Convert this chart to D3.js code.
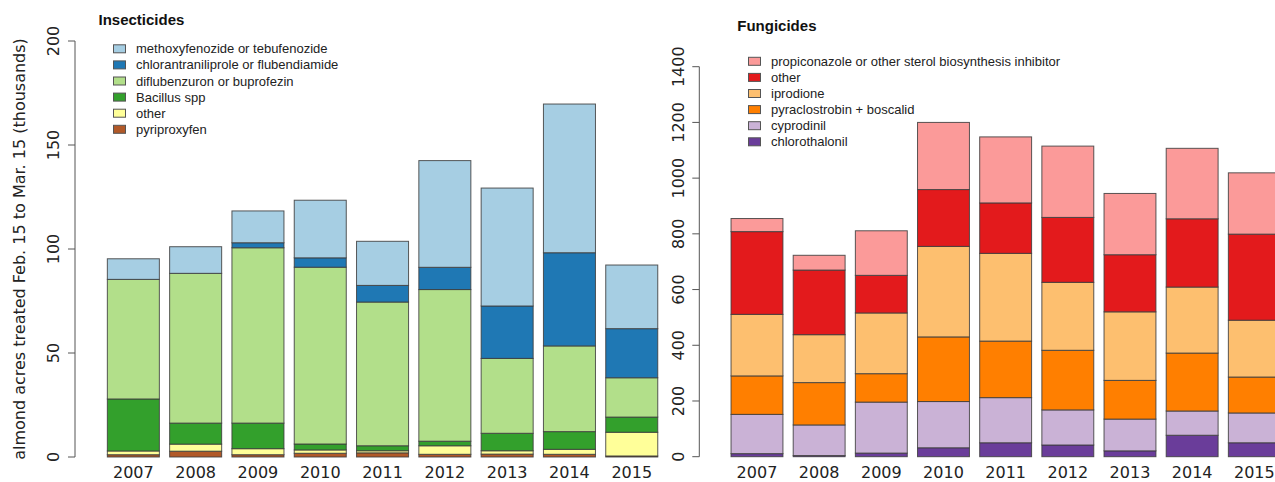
<!DOCTYPE html>
<html>
<head>
<meta charset="utf-8">
<script src="https://d3js.org/d3.v7.min.js"></script>
<style>
body { margin:0; background:#fff; }
</style>
</head>
<body>
<svg id="svg1" width="1275" height="482"></svg>
<script>
var years = ["2007","2008","2009","2010","2011","2012","2013","2014","2015"];

// insecticides, thousands of acres (stacked bottom -> top)
var insect_names = ["pyriproxyfen","other","Bacillus spp","diflubenzuron or buprofezin","chlorantraniliprole or flubendiamide","methoxyfenozide or tebufenozide"];
var pyriproxyfen = [1.1, 2.8, 1.1, 1.8, 2.0, 1.3, 1.4, 1.3, 0.5];
var insect_other = [1.8, 3.4, 2.9, 1.6, 1.0, 4.1, 1.6, 2.4, 11.4];
var bacillus     = [25.0, 10.1, 12.3, 2.85, 2.4, 2.2, 8.4, 8.5, 7.3];
var diflubenzuron = [57.5, 72.0, 84.3, 85.0, 69.1, 72.9, 36.0, 41.2, 18.9];
var chlorantraniliprole = [0, 0, 2.4, 4.5, 8.0, 10.7, 25.2, 44.8, 23.6];
var methoxyfenozide = [9.9, 12.8, 15.3, 27.7, 21.2, 51.3, 56.7, 71.5, 30.6];
var insect_colors = ["#B15928","#FFFF99","#33A02C","#B2DF8A","#1F78B4","#A6CEE3"];
var insect_ticks = [0, 50, 100, 150, 200];

// fungicides (stacked bottom -> top)
var fung_names = ["chlorothalonil","cyprodinil","pyraclostrobin + boscalid","iprodione","other","propiconazole or other sterol biosynthesis inhibitor"];
var chlorothalonil = [11, 4, 13, 32, 50, 42, 21, 77, 50];
var cyprodinil     = [141, 110, 183, 166, 162, 126, 114, 87, 107];
var pyraclostrobin = [138, 152, 102, 232, 203, 214, 139, 208, 129];
var iprodione      = [221, 172, 218, 325, 315, 244, 246, 237, 204];
var fung_other     = [297, 232, 135, 204, 181, 233, 205, 245, 309];
var propiconazole  = [47, 53, 160, 241, 237, 256, 220, 253, 220];
var fung_colors = ["#6A3D9A","#CAB2D6","#FF7F00","#FDBF6F","#E31A1C","#FB9A99"];
var fung_ticks = [0, 200, 400, 600, 800, 1000, 1200, 1400];

var build_rows = function(series)
{
	var rows = [];
	for(var i = 0; i < years.length; i++)
	{
		var r = {year: years[i]};
		for(var k = 0; k < series.length; k++)
		{
			r["s" + k] = series[k][i];
		}
		rows.push(r);
	}
	return rows;
}

var svg = d3.select("#svg1");
svg.append("rect").attr("width",1275).attr("height",482).attr("fill","#fff");

var draw_panel = function(opt)
{
	var g = svg.append("g");
	if(opt.bg)
	{
		g.append("rect")
			.attr("x", opt.bgX).attr("y", 0)
			.attr("width", 1275 - opt.bgX).attr("height", 482)
			.attr("fill", "#fff");
	}

	var x = d3.scaleBand()
		.domain(years)
		.range(opt.xRange)
		.paddingInner(0.165)
		.paddingOuter(0.0825);

	var y = d3.scaleLinear()
		.domain(opt.yDomain)
		.range(opt.yRange);

	var keys = opt.series.map(function(s, i) { return "s" + i; });
	var stack = d3.stack().keys(keys);
	var layers = stack(build_rows(opt.series));

	var clipId = "clip" + opt.id;
	svg.append("clipPath").attr("id", clipId)
		.append("rect")
		.attr("x", opt.clip[0]).attr("y", 0)
		.attr("width", opt.clip[1] - opt.clip[0]).attr("height", 482);

	var bars = g.append("g").attr("clip-path", "url(#" + clipId + ")");
	bars.selectAll("g.layer")
		.data(layers)
		.enter().append("g")
		.attr("class", "layer")
		.attr("fill", function(d, i) { return opt.colors[i]; })
		.selectAll("rect")
		.data(function(d) { return d; })
		.enter().append("rect")
		.attr("x", function(d) { return x(d.data.year); })
		.attr("width", x.bandwidth())
		.attr("y", function(d) { return y(d[1]); })
		.attr("height", function(d) { return y(d[0]) - y(d[1]); })
		.attr("stroke", "#3c3c3c")
		.attr("stroke-opacity", 0.85)
		.attr("stroke-width", 1);

	// x labels
	g.selectAll("text.xl")
		.data(years)
		.enter().append("text")
		.attr("class", "xl")
		.attr("x", function(d) { return x(d) + x.bandwidth() / 2; })
		.attr("y", 478)
		.attr("text-anchor", "middle")
		.style("font-family", "DejaVu Sans")
		.style("font-size", "16px")
		.style("fill", "#222")
		.text(function(d) { return d; });

	// y axis, R style (rotated labels)
	var ax = g.append("g").attr("transform", "translate(" + opt.axisX + ",0)");
	ax.append("line")
		.attr("x1", 0).attr("x2", 0)
		.attr("y1", y(opt.ticks[0])).attr("y2", y(opt.ticks[opt.ticks.length - 1]))
		.attr("stroke", "#555");
	ax.selectAll("line.tk")
		.data(opt.ticks)
		.enter().append("line")
		.attr("class", "tk")
		.attr("x1", -7).attr("x2", 0)
		.attr("y1", function(d) { return y(d); })
		.attr("y2", function(d) { return y(d); })
		.attr("stroke", "#555");
	ax.selectAll("text")
		.data(opt.ticks)
		.enter().append("text")
		.attr("transform", function(d) { return "translate(" + opt.labelDX + "," + y(d) + ") rotate(-90)"; })
		.attr("dy", "0.35em")
		.attr("text-anchor", "middle")
		.style("font-family", "DejaVu Sans")
		.style("font-size", "16px")
		.style("fill", "#222")
		.text(function(d) { return d; });

	// title + legend
	g.append("text")
		.attr("x", opt.titleX).attr("y", opt.titleY)
		.style("font-family", "Liberation Sans")
		.style("font-size", "15px")
		.attr("font-weight", "bold")
		.style("fill", "#111")
		.text(opt.title);

	var legendNames = opt.names.slice().reverse();
	var legendColors = opt.colors.slice().reverse();
	var leg = g.selectAll("g.leg")
		.data(legendNames)
		.enter().append("g")
		.attr("class", "leg")
		.attr("transform", function(d, i) { return "translate(" + opt.legX + "," + (opt.legY + i * 16.1) + ")"; });
	leg.append("rect")
		.attr("x", 0).attr("y", -4)
		.attr("width", 12).attr("height", 8)
		.attr("fill", function(d, i) { return legendColors[i]; })
		.attr("stroke", "#555");
	leg.append("text")
		.attr("x", 22.5)
		.attr("dy", "0.35em")
		.style("font-family", "Liberation Sans")
		.style("font-size", "13px")
		.style("fill", "#222")
		.text(function(d) { return d; });
}

draw_panel({
	id: "ins",
	series: [pyriproxyfen, insect_other, bacillus, diflubenzuron, chlorantraniliprole, methoxyfenozide],
	names: insect_names,
	colors: insect_colors,
	xRange: [102.2, 662.9],
	yDomain: [0, 200],
	yRange: [457, 41],
	ticks: insect_ticks,
	axisX: 75,
	labelDX: -22,
	clip: [0, 662],
	title: "Insecticides",
	titleX: 98.5, titleY: 24.7,
	legX: 113.5, legY: 48.8
});

// y title of the left panel
svg.append("text")
	.attr("transform", "translate(19,249) rotate(-90)")
	.attr("dy", "0.35em")
	.attr("text-anchor", "middle")
	.style("font-family", "DejaVu Sans")
	.style("font-size", "16px")
	.style("fill", "#222")
	.text("almond acres treated Feb. 15 to Mar. 15 (thousands)");

draw_panel({
	id: "fun",
	bg: true, bgX: 662,
	series: [chlorothalonil, cyprodinil, pyraclostrobin, iprodione, fung_other, propiconazole],
	names: fung_names,
	colors: fung_colors,
	xRange: [725.9, 1285.4],
	yDomain: [0, 1400],
	yRange: [456.7, 66.7],
	ticks: fung_ticks,
	axisX: 699.3,
	labelDX: -21.3,
	clip: [662, 1275],
	title: "Fungicides",
	titleX: 737.3, titleY: 31,
	legX: 748.5, legY: 61.3
});
</script>
</body>
</html>
